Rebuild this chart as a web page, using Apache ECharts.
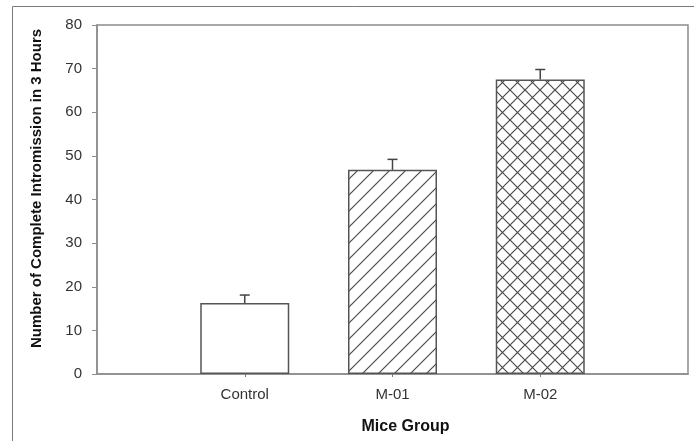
<!DOCTYPE html>
<html>
<head>
<meta charset="utf-8">
<style>
html,body{margin:0;padding:0;background:#fff;}
#chart{width:694px;height:441px;}
</style>
<script src="https://cdn.jsdelivr.net/npm/echarts@6/dist/echarts.min.js"></script>
</head>
<body>
<div id="chart"></div>
<script>
// ---- data ----
const groups = ['Control', 'M-01', 'M-02'];
const means = [16.3, 46.8, 67.5];
const errors = [1.8, 2.4, 2.3];
const yTicks = [0, 10, 20, 30, 40, 50, 60, 70, 80];

// ---- hatch patterns ----
function makePattern(type) {
  const s = type === 'cross' ? 15 : 16;
  const c = document.createElement('canvas');
  c.width = s; c.height = s;
  const ctx = c.getContext('2d');
  ctx.fillStyle = '#ffffff';
  ctx.fillRect(0, 0, s, s);
  ctx.strokeStyle = '#4a4a4a';
  ctx.lineWidth = 1.2;
  ctx.beginPath();
  // "/" direction
  ctx.moveTo(-1, s + 1); ctx.lineTo(s + 1, -1);
  ctx.moveTo(-1, 1); ctx.lineTo(1, -1);
  ctx.moveTo(s - 1, s + 1); ctx.lineTo(s + 1, s - 1);
  if (type === 'cross') {
    ctx.moveTo(-1, -1); ctx.lineTo(s + 1, s + 1);
    ctx.moveTo(s - 1, -1); ctx.lineTo(s + 1, 1);
    ctx.moveTo(-1, s - 1); ctx.lineTo(1, s + 1);
  }
  ctx.stroke();
  return c;
}
const fills = ['#ffffff', { image: makePattern('diag'), repeat: 'repeat' }, { image: makePattern('cross'), repeat: 'repeat' }];

// axis categories with empty slots at both ends
const cats = [''].concat(groups, ['']);
const barData = [{ value: '-' }].concat(
  means.map((v, i) => ({ value: v, itemStyle: { color: fills[i] } })),
  [{ value: '-' }]
);
const errData = means.map((v, i) => [i + 1, v, v + errors[i]]);

const chart = echarts.init(document.getElementById('chart'), null, { renderer: 'canvas' });
chart.setOption({
  backgroundColor: '#ffffff',
  animation: false,
  textStyle: { fontFamily: 'Liberation Sans, Arial, sans-serif' },
  graphic: [{
    type: 'rect',
    shape: { x: 12.5, y: 6.5, width: 700, height: 450 },
    style: { fill: 'none', stroke: '#7a7a7a', lineWidth: 1 },
    silent: true
  }],
  grid: {
    left: 97, right: 6, top: 25, bottom: 67,
    show: true, borderColor: '#8c8c8c', borderWidth: 1.5, backgroundColor: 'transparent'
  },
  xAxis: {
    type: 'category',
    data: cats,
    boundaryGap: false,
    axisLine: { lineStyle: { color: '#8c8c8c', width: 1.5 } },
    axisTick: { show: true, length: 3, interval: (i) => i > 0 && i < cats.length - 1, lineStyle: { color: '#777' } },
    axisLabel: { color: '#333', fontSize: 15, margin: 13, interval: 0 },
    name: 'Mice Group',
    nameLocation: 'middle',
    nameGap: 45,
    nameTextStyle: { color: '#111', fontSize: 16, fontWeight: 'bold', padding: [0, 0, 0, 26] }
  },
  yAxis: {
    type: 'value',
    min: yTicks[0], max: yTicks[yTicks.length - 1], interval: 10,
    splitLine: { show: false },
    axisLine: { show: true, lineStyle: { color: '#8c8c8c', width: 1.5 } },
    axisTick: { show: true, length: 5, lineStyle: { color: '#8c8c8c' } },
    axisLabel: { color: '#333', fontSize: 15, margin: 15 },
    name: 'Number of Complete Intromission in 3 Hours',
    nameLocation: 'middle',
    nameGap: 53,
    nameTextStyle: { color: '#111', fontSize: 15, fontWeight: 'bold', padding: [0, 0, 0, 22] }
  },
  series: [{
    type: 'bar',
    data: barData,
    barWidth: 89,
    itemStyle: { borderColor: '#555', borderWidth: 1.5 },
    z: 2
  }, {
    type: 'custom',
    data: errData,
    z: 3,
    renderItem: function (params, api) {
      const x = api.value(0);
      const lo = api.coord([x, api.value(1)]);
      const hi = api.coord([x, api.value(2)]);
      const cw = 5;
      return {
        type: 'group',
        children: [
          { type: 'line', shape: { x1: lo[0], y1: lo[1], x2: hi[0], y2: hi[1] }, style: { stroke: '#444', lineWidth: 1.5 } },
          { type: 'line', shape: { x1: hi[0] - cw, y1: hi[1], x2: hi[0] + cw, y2: hi[1] }, style: { stroke: '#444', lineWidth: 1.5 } }
        ]
      };
    }
  }]
});
</script>
</body>
</html>
